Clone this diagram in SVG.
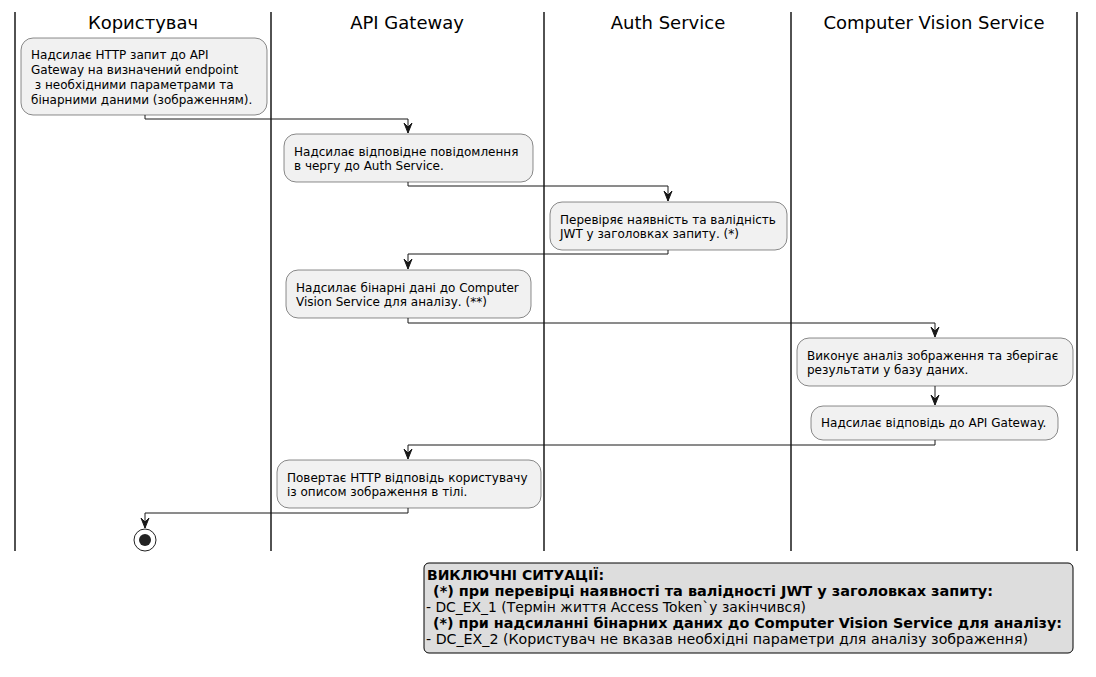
<svg xmlns="http://www.w3.org/2000/svg" width="1096" height="677" viewBox="0 0 1096 677">
<style>
.lane{stroke:#181818;stroke-width:1.5;fill:none}
.title{font-family:"DejaVu Sans",sans-serif;font-size:18px;fill:#000;text-anchor:middle}
.box{fill:#F1F1F1;stroke:#181818;stroke-width:0.5}
.t{font-family:"DejaVu Sans",sans-serif;font-size:12px;fill:#000}
.c{fill:none;stroke:#181818;stroke-width:1}
.lg{font-family:"DejaVu Sans",sans-serif;font-size:14px;fill:#000}
.b{font-weight:bold}
</style>
<defs>
<marker id="ah" viewBox="0 0 11 10" refX="10" refY="5" markerWidth="11" markerHeight="10" markerUnits="userSpaceOnUse" orient="auto">
<path d="M0,1 L10,5 L0,9 L4,5 Z" fill="#181818" stroke="#181818" stroke-width="1"/>
</marker>
</defs>
<rect width="1096" height="677" fill="#FFFFFF"/>
<g id="lanes">
<line class="lane" x1="15" y1="12" x2="15" y2="551"/>
<line class="lane" x1="271" y1="12" x2="271" y2="551"/>
<line class="lane" x1="544" y1="12" x2="544" y2="551"/>
<line class="lane" x1="791" y1="12" x2="791" y2="551"/>
<line class="lane" x1="1077" y1="12" x2="1077" y2="551"/>
<text class="title" x="143" y="29">Користувач</text>
<text class="title" x="407" y="29">API Gateway</text>
<text class="title" x="668" y="29">Auth Service</text>
<text class="title" x="934" y="29">Computer Vision Service</text>
</g>
<g id="connectors">
<path class="c" d="M145,115 V119 H408 V133" marker-end="url(#ah)"/>
<path class="c" d="M408,182 V186 H668 V201" marker-end="url(#ah)"/>
<path class="c" d="M668,250 V254 H408 V269" marker-end="url(#ah)"/>
<path class="c" d="M408,318 V323 H935 V337" marker-end="url(#ah)"/>
<path class="c" d="M935,386 V405" marker-end="url(#ah)"/>
<path class="c" d="M935,440 V445 H408 V459" marker-end="url(#ah)"/>
<path class="c" d="M408,508 V513 H145 V528" marker-end="url(#ah)"/>
</g>
<g id="n1">
<rect class="box" x="21" y="38" width="246" height="77" rx="12"/>
<text class="t" x="31" y="59">Надсилає HTTP запит до API</text>
<text class="t" x="31" y="74">Gateway на визначений endpoint</text>
<text class="t" x="31" y="89" xml:space="preserve"> з необхідними параметрами та</text>
<text class="t" x="31" y="104">бінарними даними (зображенням).</text>
</g>
<g id="n2">
<rect class="box" x="284" y="134" width="249" height="48" rx="12"/>
<text class="t" x="294" y="156">Надсилає відповідне повідомлення</text>
<text class="t" x="294" y="170">в чергу до Auth Service.</text>
</g>
<g id="n3">
<rect class="box" x="550" y="202" width="237" height="48" rx="12"/>
<text class="t" x="560" y="224">Перевіряє наявність та валідність</text>
<text class="t" x="560" y="238">JWT у заголовках запиту. (*)</text>
</g>
<g id="n4">
<rect class="box" x="286" y="270" width="245" height="48" rx="12"/>
<text class="t" x="296" y="292">Надсилає бінарні дані до Computer</text>
<text class="t" x="296" y="306">Vision Service для аналізу. (**)</text>
</g>
<g id="n5">
<rect class="box" x="797" y="338" width="276" height="48" rx="12"/>
<text class="t" x="807" y="360">Виконує аналіз зображення та зберігає</text>
<text class="t" x="807" y="374">результати у базу даних.</text>
</g>
<g id="n6">
<rect class="box" x="811" y="406" width="247" height="34" rx="12"/>
<text class="t" x="821" y="427">Надсилає відповідь до API Gateway.</text>
</g>
<g id="n7">
<rect class="box" x="277" y="460" width="264" height="48" rx="12"/>
<text class="t" x="287" y="482">Повертає HTTP відповідь користувачу</text>
<text class="t" x="287" y="496">із описом зображення в тілі.</text>
</g>
<g id="end">
<circle cx="145" cy="540" r="11" fill="none" stroke="#222222" stroke-width="1"/>
<circle cx="145" cy="540" r="6" fill="#222222"/>
</g>
<g id="legend">
<rect x="424" y="563" width="649" height="90" rx="5" fill="#DDDDDD" stroke="#000000" stroke-width="1"/>
<text class="lg b" x="427" y="580" textLength="177" lengthAdjust="spacingAndGlyphs">ВИКЛЮЧНІ СИТУАЦІЇ:</text>
<text class="lg b" x="428" y="596" xml:space="preserve" textLength="565" lengthAdjust="spacingAndGlyphs"> (*) при перевірці наявності та валідності JWT у заголовках запиту:</text>
<text class="lg" x="426" y="612" textLength="380" lengthAdjust="spacingAndGlyphs">- DC_EX_1 (Термін життя Access Token`у закінчився)</text>
<text class="lg b" x="428" y="628" xml:space="preserve" textLength="634" lengthAdjust="spacingAndGlyphs"> (*) при надсиланні бінарних даних до Computer Vision Service для аналізу:</text>
<text class="lg" x="426" y="644" textLength="602" lengthAdjust="spacingAndGlyphs">- DC_EX_2 (Користувач не вказав необхідні параметри для аналізу зображення)</text>
</g>
</svg>
